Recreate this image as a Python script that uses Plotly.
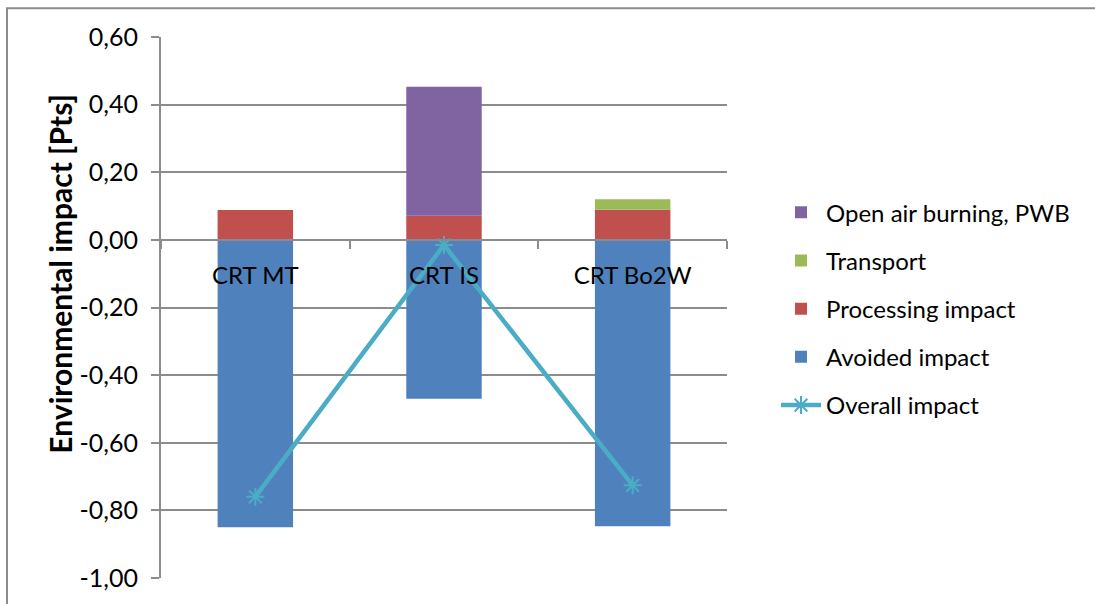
import plotly.graph_objects as go

categories = ["CRT MT", "CRT IS", "CRT Bo2W"]
avoided_impact = [-0.850, -0.470, -0.847]
processing_impact = [0.088, 0.071, 0.089]
transport = [0.0, 0.0, 0.031]
open_air_burning = [0.0, 0.382, 0.0]
overall_impact = [-0.760, -0.015, -0.726]

y_tick_values = [-1.0, -0.8, -0.6, -0.4, -0.2, 0.0, 0.2, 0.4, 0.6]
y_tick_labels = ["-1,00", "-0,80", "-0,60", "-0,40", "-0,20", "0,00", "0,20", "0,40", "0,60"]
y_title = "Environmental impact [Pts]"

FONT = "Lato"
W, H = 1095, 604
ML, MR, MT, MB = 161, 368, 37, 23
y_min, y_max = y_tick_values[0], y_tick_values[-1]

fig = go.Figure()

bar_series = [
    ("Avoided impact", avoided_impact, "#4F81BD", 4),
    ("Processing impact", processing_impact, "#C0504D", 3),
    ("Transport", transport, "#9BBB59", 2),
    ("Open air burning, PWB", open_air_burning, "#8064A2", 1),
]
for name, vals, color, rank in bar_series:
    fig.add_trace(go.Bar(
        x=categories, y=vals, name=name,
        marker=dict(color=color, line=dict(width=0)),
        legendrank=rank, legendgroup=name,
    ))

fig.add_trace(go.Scatter(
    x=categories, y=overall_impact, name="Overall impact",
    mode="lines+markers",
    line=dict(color="#4BACC6", width=4.5),
    marker=dict(symbol="asterisk-open", size=15,
                line=dict(color="#4BACC6", width=2)),
    legendrank=5, legendgroup="Overall impact",
))

plot_w = W - ML - MR
plot_h = H - MT - MB

fig.update_layout(
    width=W, height=H,
    margin=dict(l=ML, r=MR, t=MT, b=MB),
    barmode="relative",
    bargap=0.6,
    paper_bgcolor="white",
    plot_bgcolor="white",
    font=dict(family=FONT, size=24, color="black"),
    showlegend=True,
    legend=dict(
        x=(776 - ML) / plot_w, xanchor="left",
        y=1 - (191 - MT) / plot_h, yanchor="top",
        font=dict(family=FONT, size=24, color="black"),
        tracegroupgap=14,
        itemwidth=40,
        bgcolor="rgba(0,0,0,0)",
    ),
    xaxis=dict(
        type="category",
        anchor="free",
        position=(0 - y_min) / (y_max - y_min),
        showline=True, linecolor="#8C8C8C", linewidth=2,
        ticks="outside", tickson="boundaries", ticklen=8,
        tickcolor="#8C8C8C", tickwidth=2,
        showgrid=False,
        tickfont=dict(family=FONT, size=24, color="black"),
        ticklabelstandoff=14,
        layer="above traces",
    ),
    yaxis=dict(
        range=[y_min, y_max],
        tickvals=y_tick_values, ticktext=y_tick_labels,
        showline=True, linecolor="#8C8C8C", linewidth=2,
        ticks="outside", ticklen=8, tickcolor="#8C8C8C", tickwidth=2,
        showgrid=True, gridcolor="#8C8C8C", gridwidth=1.5,
        zeroline=False,
        tickfont=dict(family=FONT, size=25, color="black"),
        ticklabelstandoff=8,
    ),
    annotations=[dict(
        text="<b>" + y_title + "</b>",
        xref="paper", yref="paper",
        x=(60 - ML) / plot_w, y=(H - MB - 275) / plot_h,
        xanchor="center", yanchor="middle",
        textangle=-90, showarrow=False,
        font=dict(family=FONT, size=30, color="black"),
    )],
    shapes=[dict(
        type="rect", xref="paper", yref="paper",
        x0=(7 - ML) / plot_w, x1=(W + 20 - ML) / plot_w,
        y0=-(MB + 20) / plot_h, y1=1 + (MT - 8) / plot_h,
        line=dict(color="#8C8C8C", width=2), fillcolor="rgba(0,0,0,0)",
        layer="below",
    )],
)

fig.write_html("out.html")
